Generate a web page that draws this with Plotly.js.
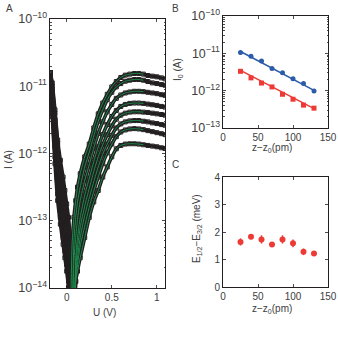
<!DOCTYPE html>
<html>
<head>
<meta charset="utf-8">
<script src="https://cdn.plot.ly/plotly-3.0.1.min.js"></script>
<style>
  html, body { margin: 0; padding: 0; background: #fff; }
  #chart { width: 338px; height: 338px; }
</style>
</head>
<body>
<div id="chart"></div>
<script>
// ----- 1. Data -----
// Panel A: bias voltage (V) and log10 of tunnel current (A) for 8 tip heights
const voltage = [-0.18, -0.16, -0.13, -0.1, -0.07, -0.04, -0.02, 0, 0.02, 0.04, 0.06, 0.08, 0.1, 0.12, 0.15,
  0.2, 0.25, 0.3, 0.35, 0.4, 0.45, 0.5, 0.55, 0.6, 0.65, 0.7, 0.75, 0.8, 0.85, 0.9, 0.95, 1.0, 1.05, 1.09];

const logI1 = [-10.85, -11.45, -12.15, -12.7, -13.05, -13.35, -13.55, -13.75, -14.0, -14.7, -13.35, -12.95, -12.7, -12.5, -12.3,
  -12.05, -11.86, -11.62, -11.41, -11.25, -11.12, -11.01, -10.93, -10.87, -10.835, -10.82, -10.81, -10.81, -10.82, -10.84, -10.85, -10.86, -10.875, -10.89];
const logI2 = [-10.85, -11.4, -12.05, -12.6, -12.95, -13.25, -13.45, -13.65, -13.9, -14.2, -14.7, -13.3, -12.95, -12.72, -12.5,
  -12.2, -11.98, -11.74, -11.52, -11.35, -11.2, -11.09, -11.01, -10.96, -10.925, -10.91, -10.9, -10.9, -10.91, -10.93, -10.95, -10.96, -10.975, -10.985];
const logI3 = [-10.8, -11.3, -11.9, -12.45, -12.85, -13.15, -13.35, -13.55, -13.8, -14.1, -14.7, -13.6, -13.25, -12.98, -12.7,
  -12.4, -12.17, -11.92, -11.7, -11.53, -11.38, -11.27, -11.18, -11.13, -11.1, -11.085, -11.075, -11.075, -11.08, -11.09, -11.1, -11.11, -11.125, -11.135];
const logI4 = [-10.8, -11.2, -11.75, -12.3, -12.7, -13.0, -13.2, -13.45, -13.7, -14.0, -14.4, -14.8, -13.55, -13.25, -12.95,
  -12.62, -12.37, -12.12, -11.9, -11.72, -11.57, -11.45, -11.36, -11.3, -11.27, -11.255, -11.25, -11.25, -11.255, -11.265, -11.275, -11.285, -11.3, -11.31];
const logI5 = [-10.8, -11.1, -11.6, -12.15, -12.55, -12.9, -13.1, -13.35, -13.6, -13.9, -14.3, -14.8, -13.7, -13.4, -13.1,
  -12.78, -12.52, -12.27, -12.05, -11.87, -11.72, -11.59, -11.49, -11.43, -11.4, -11.385, -11.38, -11.38, -11.385, -11.39, -11.4, -11.41, -11.42, -11.43];
const logI6 = [-10.8, -11.05, -11.5, -12.0, -12.45, -12.8, -13.05, -13.25, -13.5, -13.8, -14.2, -14.8, -13.8, -13.55, -13.25,
  -12.92, -12.66, -12.42, -12.2, -12.01, -11.86, -11.73, -11.62, -11.56, -11.53, -11.515, -11.51, -11.51, -11.52, -11.53, -11.545, -11.555, -11.57, -11.58];
const logI7 = [-10.8, -11.0, -11.4, -11.85, -12.25, -12.55, -12.8, -13.0, -13.25, -13.55, -14.0, -14.8, -13.9, -13.65, -13.38,
  -13.08, -12.8, -12.56, -12.35, -12.15, -11.99, -11.86, -11.75, -11.68, -11.65, -11.635, -11.63, -11.635, -11.645, -11.66, -11.675, -11.69, -11.705, -11.72];
const logI8 = [-10.8, -10.95, -11.35, -11.8, -12.1, -12.35, -12.55, -12.75, -12.95, -13.25, -13.65, -14.8, -13.9, -13.75, -13.55,
  -13.25, -12.95, -12.72, -12.55, -12.35, -12.2, -12.05, -11.93, -11.88, -11.86, -11.855, -11.855, -11.86, -11.87, -11.88, -11.89, -11.9, -11.915, -11.925];

const curves = [logI1, logI2, logI3, logI4, logI5, logI6, logI7, logI8];
const fitEnd = 0.85; // green fits stop here

// Panel B / C: tip displacement z - z0 (pm)
const zPos = [25, 40, 55, 70, 85, 100, 115, 130];
const i0Blue = [1.06e-11, 8.4e-12, 6.2e-12, 3.9e-12, 3.0e-12, 2.1e-12, 1.55e-12, 9.8e-13];
const i0BlueErr = [1.2e-12, 9e-13, 7e-13, 4e-13, 3e-13, 2.2e-13, 1.6e-13, 1.1e-13];
const i0Red = [3.3e-12, 2.2e-12, 1.6e-12, 1.26e-12, 8.0e-13, 5.9e-13, 4.1e-13, 3.4e-13];
const fitZ = [25, 130];
const fitBlue = [1.12e-11, 1.02e-12];
const fitRed = [3.5e-12, 3.3e-13];

// Panel C: energy splitting (meV)
const splitting = [1.64, 1.83, 1.73, 1.55, 1.73, 1.59, 1.28, 1.22];
const splittingErr = [0.13, 0.09, 0.15, 0.09, 0.15, 0.14, 0.12, 0.08];

// ----- 2. Styles -----
const ink = "#231f20";
const green = "#1c8c4c";
const blue = "#2a5caa";
const red = "#ee3a36";
const font = { family: "Liberation Sans, Arial, sans-serif", size: 10, color: "#404040" };

// ----- 3. Traces -----
const traces = [];

// measured curves: dense black open squares
curves.forEach(logI => {
  traces.push({
    x: voltage,
    y: logI.map(v => Math.pow(10, v)),
    type: "scatter",
    mode: "lines+markers",
    line: { color: ink, width: 3.5, shape: "spline", smoothing: 0.6 },
    marker: { symbol: "square-open", size: 4, color: ink, line: { width: 1 } },
    xaxis: "x", yaxis: "y",
    hoverinfo: "skip"
  });
});

// fits: green line from the current minimum up to fitEnd
curves.forEach(logI => {
  let start = 0;
  logI.forEach((v, i) => { if (v < logI[start]) start = i; });
  const xs = [], ys = [];
  voltage.forEach((u, i) => {
    if (i >= start && u <= fitEnd) { xs.push(u); ys.push(Math.pow(10, logI[i])); }
  });
  traces.push({
    x: xs, y: ys,
    type: "scatter", mode: "lines",
    line: { color: green, width: 1, shape: "spline", smoothing: 0.6 },
    xaxis: "x", yaxis: "y",
    hoverinfo: "skip"
  });
});

// panel B
traces.push({ x: fitZ, y: fitBlue, type: "scatter", mode: "lines", line: { color: blue, width: 1.5 }, xaxis: "x2", yaxis: "y2" });
traces.push({ x: fitZ, y: fitRed, type: "scatter", mode: "lines", line: { color: red, width: 1.5 }, xaxis: "x2", yaxis: "y2" });
traces.push({
  x: zPos, y: i0Blue, type: "scatter", mode: "markers",
  marker: { symbol: "circle", size: 5, color: blue },
  error_y: { type: "data", array: i0BlueErr, color: blue, thickness: 1.3, width: 0 },
  xaxis: "x2", yaxis: "y2"
});
traces.push({
  x: zPos, y: i0Red, type: "scatter", mode: "markers",
  marker: { symbol: "square", size: 5, color: red },
  xaxis: "x2", yaxis: "y2"
});

// panel C
traces.push({
  x: zPos, y: splitting, type: "scatter", mode: "markers",
  marker: { symbol: "circle", size: 6, color: red },
  error_y: { type: "data", array: splittingErr, color: red, thickness: 1.5, width: 0 },
  xaxis: "x3", yaxis: "y3"
});

// ----- 4. Layout -----
function boxAxis(extra) {
  return Object.assign({
    showline: true, linecolor: ink, linewidth: 1, mirror: "ticks",
    ticks: "inside", ticklen: 3, tickcolor: ink, tickwidth: 0.8,
    showgrid: false, zeroline: false, tickfont: font, fixedrange: true
  }, extra);
}

// text placed by its centre, in pixels of the 338x338 picture
function label(text, x, y, angle) {
  return {
    text: text, x: x / 338, y: 1 - y / 338, xref: "paper", yref: "paper",
    xanchor: "center", yanchor: "middle",
    showarrow: false, textangle: angle || 0, font: font
  };
}

const layout = {
  width: 338, height: 338,
  margin: { l: 0, r: 0, t: 0, b: 0 },
  paper_bgcolor: "#fff", plot_bgcolor: "#fff",
  showlegend: false,
  font: font,
  xaxis: boxAxis({ domain: [50 / 338, 165 / 338], range: [-0.185, 1.09], tickvals: [0, 0.5, 1], anchor: "y" }),
  yaxis: boxAxis({
    domain: [1 - 288 / 338, 1 - 19 / 338], type: "log", range: [-14, -10], dtick: 1,
    exponentformat: "power", anchor: "x",
    minor: { ticks: "inside", ticklen: 1.5, tickcolor: ink }
  }),
  xaxis2: boxAxis({ domain: [223 / 338, 328 / 338], range: [0, 150], tickvals: [0, 50, 100, 150], anchor: "y2" }),
  yaxis2: boxAxis({
    domain: [1 - 128 / 338, 1 - 16 / 338], type: "log", range: [-13, -10], dtick: 1,
    exponentformat: "power", anchor: "x2",
    minor: { ticks: "inside", ticklen: 1.5, tickcolor: ink }
  }),
  xaxis3: boxAxis({ domain: [223 / 338, 328 / 338], range: [0, 150], tickvals: [0, 50, 100, 150], anchor: "y3" }),
  yaxis3: boxAxis({ domain: [1 - 287 / 338, 1 - 177 / 338], range: [0, 4], dtick: 1, anchor: "x3" }),
  annotations: [
    label("A", 9, 8),
    label("B", 175, 8),
    label("C", 175, 164),
    label("I (A)", 8, 160, -90),
    label("U (V)", 105, 312),
    label("I<sub>0</sub> (A)", 178, 70, -90),
    label("z\u2212z<sub>0</sub>(pm)", 272, 148),
    label("E<sub>1/2</sub>\u2212E<sub>3/2</sub> (meV)", 197, 229, -90),
    label("z\u2212z<sub>0</sub>(pm)", 272, 309)
  ]
};

Plotly.newPlot("chart", traces, layout, { staticPlot: true, displayModeBar: false });
</script>
</body>
</html>
